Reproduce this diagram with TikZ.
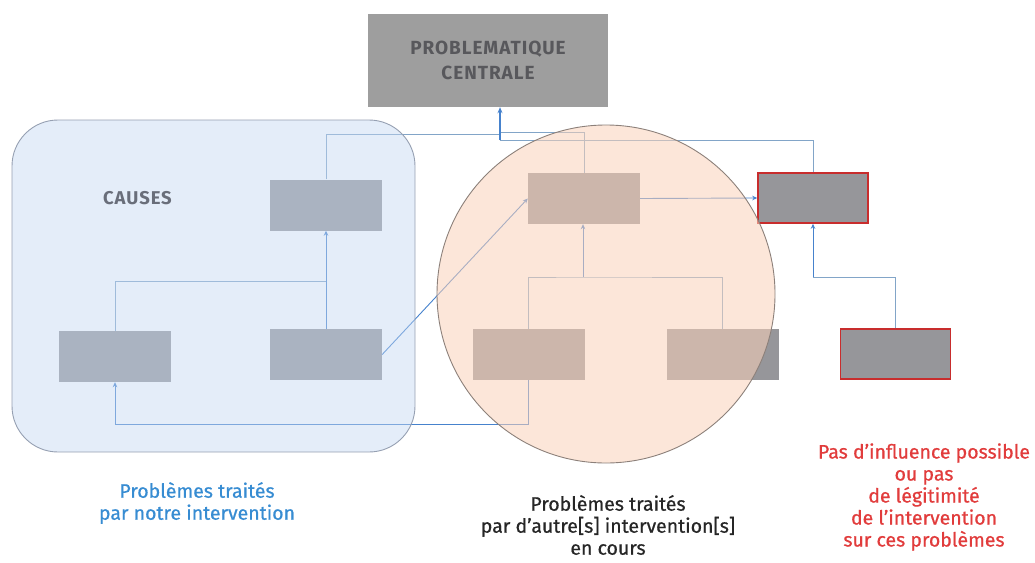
\documentclass[tikz,border=0pt]{standalone}
\usepackage{fontspec}
\setmainfont{Fira Sans}
\newfontfamily\medfont{Fira Sans}[FakeBold=0.7]
\newfontfamily\capfont{Fira Sans}[LetterSpace=5]
\usetikzlibrary{arrows.meta}
\definecolor{linecol}{RGB}{130,165,200}
\definecolor{arrowcol}{RGB}{70,130,205}
\definecolor{boxgray}{RGB}{150,150,154}
\definecolor{centralgray}{RGB}{158,158,158}
\definecolor{titlegray}{RGB}{88,88,92}
\definecolor{causesgray}{RGB}{105,110,122}
\definecolor{bluetext}{RGB}{55,140,210}
\definecolor{redtext}{RGB}{225,60,60}
\definecolor{redborder}{RGB}{200,45,45}
\definecolor{blueov}{RGB}{195,215,242}
\definecolor{peachov}{RGB}{250,210,185}
\definecolor{rectborder}{RGB}{150,160,178}
\definecolor{circborder}{RGB}{140,128,122}
\tikzset{
  gbox/.style={draw=none,fill=boxgray,minimum width=112pt,minimum height=51pt,inner sep=0pt},
  rbox/.style={draw=redborder,line width=1.6pt,fill=boxgray,minimum width=110pt,minimum height=50pt,inner sep=0pt},
  conn/.style={draw=linecol,line width=0.9pt},
  arr/.style={conn,-{Stealth[length=5pt,width=4.5pt]},arrowcol},
  lbl/.style={align=center,font=\medfont\fontsize{19.5}{22}\selectfont,inner sep=0pt}
}
\begin{document}
\begin{tikzpicture}[x=1pt,y=-1pt]
\useasboundingbox (0,0) rectangle (1035,562);
% central
\node[fill=centralgray,minimum width=240pt,minimum height=93pt,inner sep=0pt,align=center,
      font=\capfont\fontsize{19}{25}\selectfont\bfseries,text=titlegray] (central) at (488,60.5)
      {PROBLEMATIQUE\\CENTRALE};
% boxes
\node[gbox] (ctop) at (326,205) {};
\node[gbox] (cbl) at (115,356.5) {};
\node[gbox] (cbr) at (326,354.5) {};
\node[gbox] (otop) at (584,198.5) {};
\node[gbox] (obl) at (528.5,354.5) {};
\node[gbox] (obr) at (722.5,354.5) {};
\node[rbox] (rtop) at (813,198) {};
\node[rbox] (rbot) at (895.5,354) {};
% connectors
\draw[conn] (ctop.north) |- (500,134);
\draw[conn] (otop.north) |- (500,132);
\draw[conn] (rtop.north) |- (500,140);
\draw[conn,-{Stealth[length=6pt,width=5pt]},draw=arrowcol,line width=1.3pt] (500,140) -- (central.south -| 500,0);
\draw[conn] (cbl.north) |- (326,281);
\draw[arr] (cbr.north) -- (ctop.south);
\draw[arr] (cbr.east) -- (otop.west);
\draw[arr] (obl.south) |- (115,424) -- (cbl.south);
\draw[conn] (obl.north) |- (583,277) -| (obr.north);
\draw[arr] (583,277) -- (otop.south -| 583,0);
\draw[arr] (otop.east) -- (rtop.west);
\draw[conn] (rbot.north) |- (813,277);
\draw[arr] (813,277) -- (rtop.south);
% overlays
\fill[blueov,opacity=0.45,rounded corners=46pt] (12,120) rectangle (415,452);
\draw[rectborder,line width=0.9pt,rounded corners=46pt] (12,120) rectangle (415,452);
\fill[peachov,opacity=0.55] (606,294) circle (169);
\draw[circborder,line width=0.9pt] (606,294) circle (169);
% labels
\node[font=\capfont\fontsize{18.5}{19}\selectfont\bfseries,text=causesgray,inner sep=0pt] (causes) at (137.5,198) {CAUSES};
\node[lbl,text=bluetext] (lblue) at (197,503) {Problèmes traités\\par notre intervention};
\node[lbl,text=black!85] (lblack) at (608,525) {Problèmes traités\\par d’autre[s] intervention[s]\\en cours};
\node[lbl,text=redtext] (lred) at (924,497) {Pas d’influence possible\\ou pas\\de légitimité\\de l’intervention\\sur ces problèmes};
\end{tikzpicture}
\end{document}
